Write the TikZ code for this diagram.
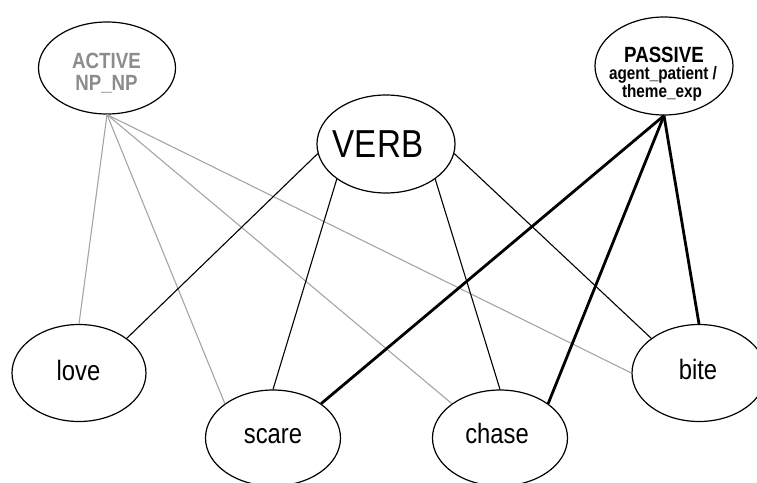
\documentclass[tikz,border=0pt]{standalone}
\usepackage{fontspec}
\setmainfont{Liberation Sans}[FakeStretch=0.85]
\usetikzlibrary{shapes.geometric}
\definecolor{softgray}{RGB}{140,140,140}
\definecolor{linegray}{RGB}{165,165,165}
\begin{document}
\begin{tikzpicture}[x=1pt,y=-1pt,
  vert/.style={draw=black,line width=1.2pt,fill=white,ellipse,inner sep=0pt,
               minimum width=136pt,minimum height=96pt},
  word/.style={anchor=base,inner sep=0pt,font=\fontsize{28}{30}\selectfont},
  head/.style={anchor=base,inner sep=0pt,font=\bfseries\fontsize{22}{24}\selectfont},
  sub/.style={anchor=base,inner sep=0pt,font=\bfseries\fontsize{18}{19}\selectfont},
  graylink/.style={draw=linegray,line width=1.1pt},
  verblink/.style={draw=black,line width=1.1pt},
  passlink/.style={draw=black,line width=2.8pt}]
\useasboundingbox (0,0) rectangle (757,482);

% vertices
\node[vert,minimum width=137pt,minimum height=92pt] (active) at (107,68) {};
\node[vert,minimum width=138pt,minimum height=98pt] (passive) at (664,66) {};
\node[vert,minimum width=138pt,minimum height=98pt] (verb) at (386,144) {};
\node[vert,minimum width=134pt,minimum height=97pt] (love) at (79,373) {};
\node[vert,minimum width=134pt,minimum height=97pt] (bite) at (699,373) {};
\node[vert,minimum width=135pt,minimum height=96pt] (scare) at (273,438) {};
\node[vert,minimum width=135pt,minimum height=96pt] (chase) at (500,438) {};

% vertex labels
\node[head,text=softgray] (activeA) at (106.5,68) {ACTIVE};
\node[head,text=softgray] (activeB) at (106.5,90) {NP\_NP};
\node[head] (passiveA) at (664,62) {PASSIVE};
\node[sub] (passiveB) at (663,79.5) {agent\_patient /};
\node[sub] (passiveC) at (662,97.5) {theme\_exp};
\node[word,font=\fontsize{39}{40}\selectfont] (verbT) at (378,157) {VERB};
\node[word] (loveT) at (78.5,380) {love};
\node[word] (biteT) at (698,379) {bite};
\node[word] (scareT) at (273,443) {scare};
\node[word] (chaseT) at (497,443) {chase};

% links from ACTIVE
\draw[graylink] (active.south) -- (love.north);
\draw[graylink] (active.south) -- (scare.north west);
\draw[graylink] (active.south) -- (chase.north west);
\draw[graylink] (active.south) -- (bite.west);

% links from VERB
\draw[verblink] (verb.188) -- (love.north east);
\draw[verblink] (verb.south west) -- (scare.north);
\draw[verblink] (verb.south east) -- (chase.north);
\draw[verblink] (verb.-8) -- (bite.north west);

% links from PASSIVE
\draw[passlink] (passive.south) -- (scare.north east);
\draw[passlink] (passive.south) -- (chase.north east);
\draw[passlink] (passive.south) -- (bite.north);
\end{tikzpicture}
\end{document}
